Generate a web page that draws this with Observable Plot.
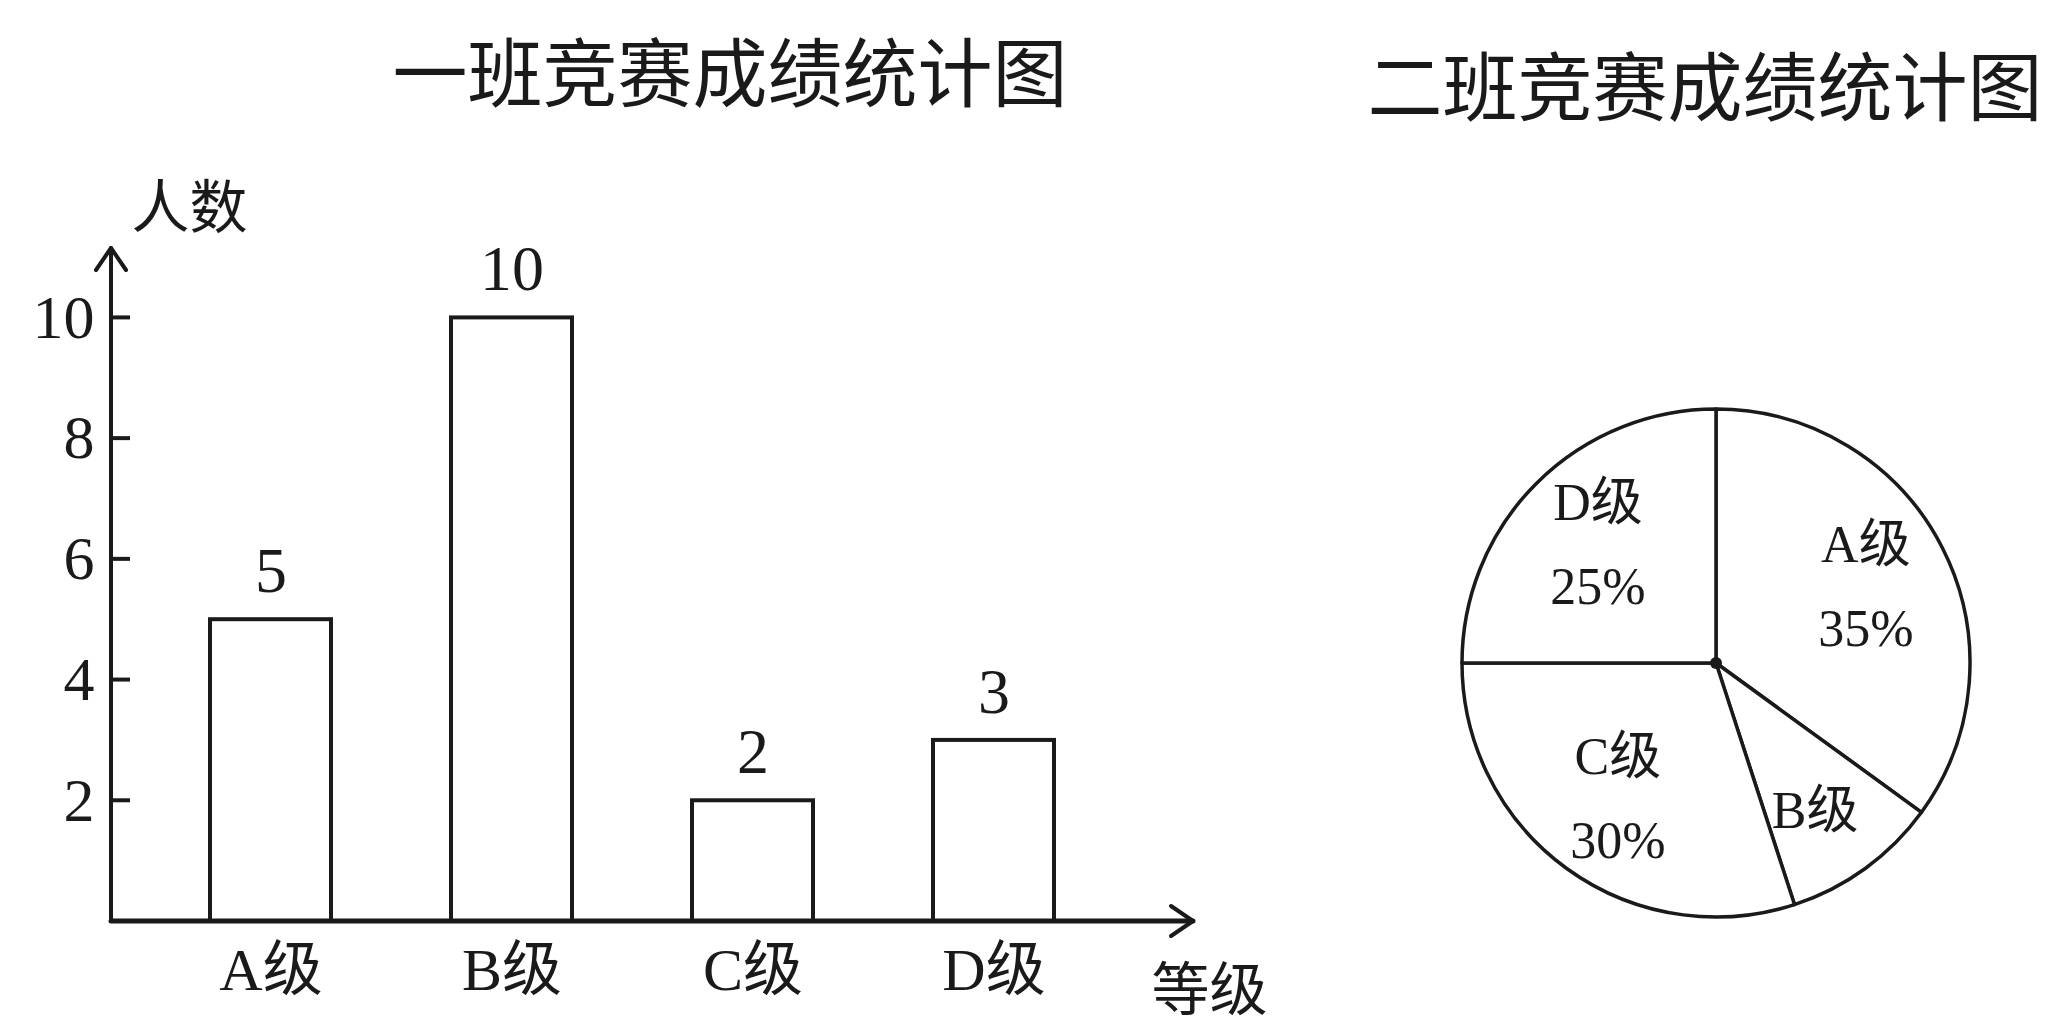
<!DOCTYPE html>
<html>
<head>
<meta charset="utf-8">
<script src="https://cdn.jsdelivr.net/npm/d3@7"></script>
<script src="https://cdn.jsdelivr.net/npm/@observablehq/plot@0.6"></script>
<style>
  html, body { margin: 0; padding: 0; background: #fff; }
  #page { position: relative; width: 2045px; height: 1022px; overflow: hidden; background: #fff; }
  .title { position: absolute; font-family: "Noto Sans CJK SC", sans-serif; font-size: 75px; line-height: 75px; color: #1a1a1a; white-space: nowrap; transform: translateX(-50%); }
  #bar { position: absolute; left: 0; top: 140px; }
  #pie { position: absolute; left: 1380px; top: 140px; }
</style>
</head>
<body>
<div id="page">
  <div class="title" id="t1" style="left:730px; top:31px;"></div>
  <div class="title" id="t2" style="left:1705px; top:45px;"></div>
  <div id="bar"></div>
  <div id="pie"></div>
</div>
<script>
// ---- data ----
const title1 = "一班竞赛成绩统计图";
const title2 = "二班竞赛成绩统计图";
const yLabel = "人数";
const xLabel = "等级";
const grades = ["A级", "B级", "C级", "D级"];
const class1Counts = [5, 10, 2, 3];
const yTicks = [2, 4, 6, 8, 10];
const class2Percents = [35, 10, 30, 25];
const class2Shown = ["35%", "", "30%", "25%"];

// ---- style / layout ----
const ink = "#1a1a1a";
const latinFont = '"Liberation Serif", "Noto Sans CJK SC", serif';

document.getElementById("t1").textContent = title1;
document.getElementById("t2").textContent = title2;

const barData = grades.map((g, i) => ({grade: g, count: class1Counts[i]}));

function axesMark(index, scales, values, dims) {
  const {width, height, marginLeft, marginRight, marginTop, marginBottom} = dims;
  const x0 = marginLeft, x1 = width - marginRight, y0 = height - marginBottom, y1 = marginTop;
  const g = d3.create("svg:g")
    .attr("fill", "none").attr("stroke", ink)
    .attr("stroke-linecap", "round").attr("stroke-linejoin", "round");
  g.append("path").attr("d", `M${x0},${y0}H${x1}`).attr("stroke-width", 5);
  g.append("path").attr("d", `M${x1 - 22},${y0 - 15}L${x1},${y0}L${x1 - 22},${y0 + 15}`).attr("stroke-width", 4);
  g.append("path").attr("d", `M${x0},${y0}V${y1}`).attr("stroke-width", 4);
  g.append("path").attr("d", `M${x0 - 15},${y1 + 22}L${x0},${y1}L${x0 + 15},${y1 + 22}`).attr("stroke-width", 4);
  for (const t of yTicks) {
    g.append("path").attr("d", `M${x0},${scales.y(t)}h19`).attr("stroke-width", 4).attr("stroke-linecap", "butt");
  }
  return g.node();
}

const barPlot = Plot.plot({
  width: 1280,
  height: 882,
  marginLeft: 111,
  marginRight: 87,
  marginTop: 108,
  marginBottom: 101,
  style: {fontFamily: latinFont, fontSize: "60px", color: ink, background: "transparent", overflow: "visible"},
  x: {domain: grades, range: [148.6, 1115.4], paddingInner: 0.5, paddingOuter: 0.25, label: null},
  y: {domain: [0, 11.15], label: null},
  marks: [
    Plot.barY(barData, {x: "grade", y: "count", fill: "white", stroke: ink, strokeWidth: 4}),
    axesMark,
    Plot.axisY({ticks: yTicks, tickSize: 0, tickPadding: 17, fontSize: 62, label: null}),
    Plot.axisX({tickSize: 0, tickPadding: 26, fontSize: 60, label: null}),
    Plot.text(barData, {x: "grade", y: "count", text: d => String(d.count), dy: -48, fontSize: 64, fill: ink}),
    Plot.text([yLabel], {frameAnchor: "top-left", textAnchor: "middle", lineAnchor: "middle", dx: 78, dy: -39, fontSize: 58, fill: ink}),
    Plot.text([xLabel], {frameAnchor: "bottom-right", textAnchor: "middle", lineAnchor: "middle", dx: 16, dy: 70, fontSize: 58, fill: ink})
  ]
});
document.getElementById("bar").appendChild(barPlot);

// ---- pie ----
const pieData = grades.map((g, i) => ({grade: g, value: class2Percents[i], shown: class2Shown[i]}));
const arcs = d3.pie().sort(null).value(d => d.value)(pieData);
const labelR = 0.66;
const pieLabels = arcs.map(a => {
  const m = (a.startAngle + a.endAngle) / 2;
  return {grade: a.data.grade, shown: a.data.shown, x: labelR * Math.sin(m), y: labelR * Math.cos(m)};
});

function pieMark(index, scales) {
  const cx = scales.x(0), cy = scales.y(0), r = scales.x(1) - cx;
  const arc = d3.arc().innerRadius(0).outerRadius(r);
  const g = d3.create("svg:g").attr("transform", `translate(${cx},${cy})`);
  g.selectAll("path").data(arcs).join("path")
    .attr("d", arc).attr("fill", "white").attr("stroke", ink)
    .attr("stroke-width", 3.5).attr("stroke-linejoin", "round");
  g.append("circle").attr("r", 6).attr("fill", ink);
  return g.node();
}

const withPct = pieLabels.filter(d => d.shown);
const withoutPct = pieLabels.filter(d => !d.shown);

const piePlot = Plot.plot({
  width: 665,
  height: 882,
  margin: 0,
  axis: null,
  style: {fontFamily: latinFont, fontSize: "52px", color: ink, background: "transparent", overflow: "visible"},
  x: {domain: [-1, 1], range: [82, 590]},
  y: {domain: [-1, 1], range: [777, 269]},
  marks: [
    pieMark,
    Plot.text(withPct, {x: "x", y: "y", text: "grade", dy: -42, fontSize: 52, fill: ink}),
    Plot.text(withPct, {x: "x", y: "y", text: "shown", dy: 42, fontSize: 52, fill: ink}),
    Plot.text(withoutPct, {x: "x", y: "y", text: "grade", dy: 12, fontSize: 52, fill: ink})
  ]
});
document.getElementById("pie").appendChild(piePlot);
</script>
</body>
</html>
